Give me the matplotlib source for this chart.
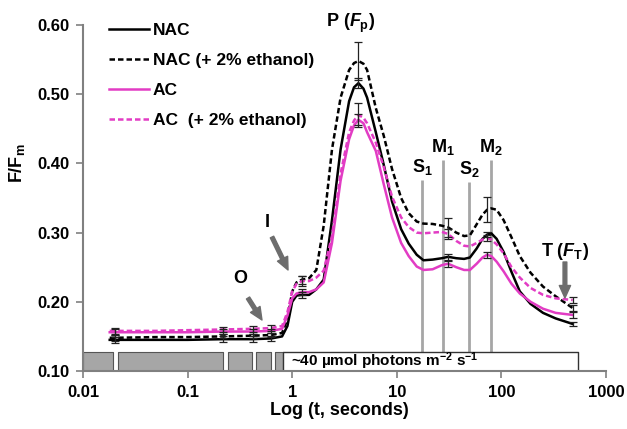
import matplotlib
matplotlib.use('Agg')
import matplotlib.pyplot as plt
import numpy as np

plt.rcParams['font.family'] = ['Liberation Sans', 'DejaVu Sans']
plt.rcParams['font.weight'] = 'bold'
plt.rcParams['axes.labelweight'] = 'bold'
plt.rcParams['mathtext.fontset'] = 'custom'
plt.rcParams['mathtext.rm'] = 'Liberation Sans:bold'
plt.rcParams['mathtext.it'] = 'Liberation Sans:bold:italic'
plt.rcParams['mathtext.bf'] = 'Liberation Sans:bold'

# time (s)
t = [0.018, 0.02, 0.05, 0.1, 0.22, 0.42, 0.63, 0.8, 0.9, 1.0, 1.1, 1.24, 1.45,
     1.7, 2.0, 2.4, 2.9, 3.5, 3.9, 4.3, 4.8, 5.2, 6.3, 7.5, 9, 11, 13, 15.5, 18,
     22, 27, 31, 37, 44, 50, 58, 66, 73, 80, 90, 105, 125, 150, 190, 250, 330, 480]

nac = [0.145, 0.145, 0.145, 0.145, 0.146, 0.146, 0.147, 0.150, 0.165, 0.200, 0.209,
       0.210, 0.210, 0.218, 0.232, 0.318, 0.420, 0.490, 0.510, 0.516, 0.508, 0.495,
       0.445, 0.398, 0.345, 0.305, 0.284, 0.268, 0.260, 0.261, 0.263, 0.265, 0.263,
       0.262, 0.264, 0.277, 0.291, 0.297, 0.299, 0.291, 0.272, 0.243, 0.215, 0.197,
       0.184, 0.176, 0.168]
nac_eth = [0.148, 0.148, 0.149, 0.149, 0.150, 0.151, 0.152, 0.155, 0.175, 0.215,
           0.228, 0.232, 0.234, 0.246, 0.310, 0.420, 0.495, 0.535, 0.545, 0.548,
           0.544, 0.535, 0.480, 0.440, 0.392, 0.350, 0.328, 0.316, 0.313, 0.3125,
           0.310, 0.3075, 0.300, 0.295, 0.296, 0.312, 0.326, 0.333, 0.335, 0.333,
           0.318, 0.293, 0.266, 0.242, 0.222, 0.208, 0.191]
ac = [0.156, 0.156, 0.156, 0.156, 0.157, 0.157, 0.158, 0.161, 0.180, 0.205, 0.212,
      0.214, 0.214, 0.218, 0.228, 0.285, 0.375, 0.435, 0.455, 0.463, 0.458, 0.445,
      0.418, 0.370, 0.322, 0.285, 0.266, 0.251, 0.246, 0.247, 0.253, 0.255, 0.250,
      0.246, 0.246, 0.255, 0.264, 0.268, 0.266, 0.258, 0.244, 0.226, 0.212, 0.200,
      0.190, 0.184, 0.181]
ac_eth = [0.158, 0.158, 0.158, 0.159, 0.160, 0.161, 0.162, 0.165, 0.185, 0.215,
          0.226, 0.230, 0.230, 0.235, 0.245, 0.295, 0.385, 0.445, 0.462, 0.470,
          0.466, 0.458, 0.430, 0.395, 0.352, 0.322, 0.308, 0.300, 0.299, 0.300,
          0.301, 0.298, 0.288, 0.281, 0.280, 0.285, 0.290, 0.292, 0.290, 0.283,
          0.270, 0.250, 0.235, 0.220, 0.210, 0.205, 0.2026]

# error bars at these sample times
err_t = [0.02, 0.22, 0.42, 0.63, 1.24, 4.3, 31, 73, 480]
nac_err = [0.004, 0.004, 0.004, 0.004, 0.004, 0.007, 0.004, 0.004, 0.003]
nac_eth_err = [0.004, 0.003, 0.003, 0.003, 0.006, 0.027, 0.014, 0.018, 0.005]
ac_err = [0.004, 0.003, 0.003, 0.003, 0.004, 0.008, 0.004, 0.004, 0.004]
ac_eth_err = [0.004, 0.004, 0.004, 0.004, 0.007, 0.017, 0.007, 0.004, 0.004]

# light bar: dark (gray) pieces, then actinic light box
dark_edges = [(0.01, 0.0194), (0.0216, 0.218), (0.243, 0.413), (0.451, 0.627), (0.685, 0.817)]
light_span = (0.817, 540)

# transient markers
marks = ['S$_{\\rm 1}$', 'M$_{\\rm 1}$', 'S$_{\\rm 2}$', 'M$_{\\rm 2}$']
mark_t = [17.5, 27.5, 49, 79]
mark_top = [0.376, 0.405, 0.373, 0.405]

MAG = '#e23cc4'
GRAY = '#808080'

fig = plt.figure(figsize=(6.27, 4.29), dpi=100)
ax = fig.add_axes([0.1324, 0.1352, 0.8341, 0.8065])

ax.vlines(mark_t, 0.127, mark_top, color='#a6a6a6', lw=2, zorder=1)
for lab, xt, yt in zip(marks, mark_t, mark_top):
    ax.text(xt, yt + 0.004, lab, ha='center', va='bottom', fontsize=13)

dash = (0, (2.2, 1.2))
ax.plot(t, nac, color='k', lw=1.8, label='NAC', zorder=3)
ax.plot(t, nac_eth, color='k', lw=1.8, ls=dash, label='NAC (+ 2% ethanol)', zorder=3)
ax.plot(t, ac, color=MAG, lw=1.8, label='AC', zorder=3)
ax.plot(t, ac_eth, color=MAG, lw=1.8, ls=dash, label='AC  (+ 2% ethanol)', zorder=3)

for ser, err in [(nac, nac_err), (nac_eth, nac_eth_err), (ac, ac_err), (ac_eth, ac_eth_err)]:
    yv = [ser[t.index(x)] for x in err_t]
    ax.errorbar(err_t, yv, yerr=err, fmt='none', ecolor='#222222', elinewidth=0.9,
                capsize=3, capthick=0.9, zorder=4)

for a, b in dark_edges:
    ax.broken_barh([(a, b - a)], (0.1, 0.027), facecolors='#a6a6a6',
                   edgecolors='#555555', linewidth=0.8, zorder=2)
ax.broken_barh([(light_span[0], light_span[1] - light_span[0])], (0.1, 0.027),
               facecolors='white', edgecolors='#333333', linewidth=1.0, zorder=2)
ax.text(0.97, 0.1135, '~40 \u00b5mol photons m$^{-2}$ s$^{-1}$', fontsize=11,
        ha='left', va='center', zorder=5)

arrow = dict(arrowstyle='simple,head_width=0.9,head_length=1.0,tail_width=0.3',
             color='#6d6d6d', mutation_scale=9, shrinkA=0, shrinkB=0)
ax.annotate('', xy=(0.514, 0.1737), xytext=(0.378, 0.2055), arrowprops=arrow)
ax.annotate('', xy=(0.912, 0.246), xytext=(0.641, 0.2936), arrowprops=arrow)
ax.annotate('', xy=(405, 0.2055), xytext=(405, 0.2575), arrowprops=arrow)
ax.text(0.317, 0.233, 'O', ha='center', va='center', fontsize=13)
ax.text(0.574, 0.3139, 'I', ha='center', va='center', fontsize=13)
ax.text(405, 0.272, 'T ($F_{\\rm T}$)', ha='center', va='center', fontsize=13)
ax.text(3.6, 0.603, 'P ($F_{\\rm p}$)', ha='center', va='center', fontsize=13)

ax.set_xscale('log')
ax.set_xlim(0.01, 1000)
ax.set_ylim(0.1, 0.6)
ax.set_xticks([0.01, 0.1, 1, 10, 100, 1000])
ax.set_xticklabels(['0.01', '0.1', '1', '10', '100', '1000'])
ax.minorticks_off()
ax.set_yticks([0.1, 0.2, 0.3, 0.4, 0.5, 0.6])
ax.set_yticklabels(['%.2f' % v for v in [0.1, 0.2, 0.3, 0.4, 0.5, 0.6]])
ax.tick_params(direction='out', length=5, width=1.2, color=GRAY, labelsize=12, pad=5)
for s in ['top', 'right']:
    ax.spines[s].set_visible(False)
for s in ['left', 'bottom']:
    ax.spines[s].set_color(GRAY)
    ax.spines[s].set_linewidth(1.5)

ax.set_ylabel('F/F$_{\\rm m}$', fontsize=13)
ax.yaxis.set_label_coords(-0.108, 0.60)
ax.set_xlabel('Log (t, seconds)', fontsize=13)
ax.xaxis.set_label_coords(0.49, -0.09)

ax.legend(loc='upper left', bbox_to_anchor=(0.05, 1.005), frameon=False, fontsize=12.5,
          handlelength=2.3, handletextpad=0.2, labelspacing=0.85, borderpad=0,
          borderaxespad=0)

fig.savefig('out.png', dpi=100)
